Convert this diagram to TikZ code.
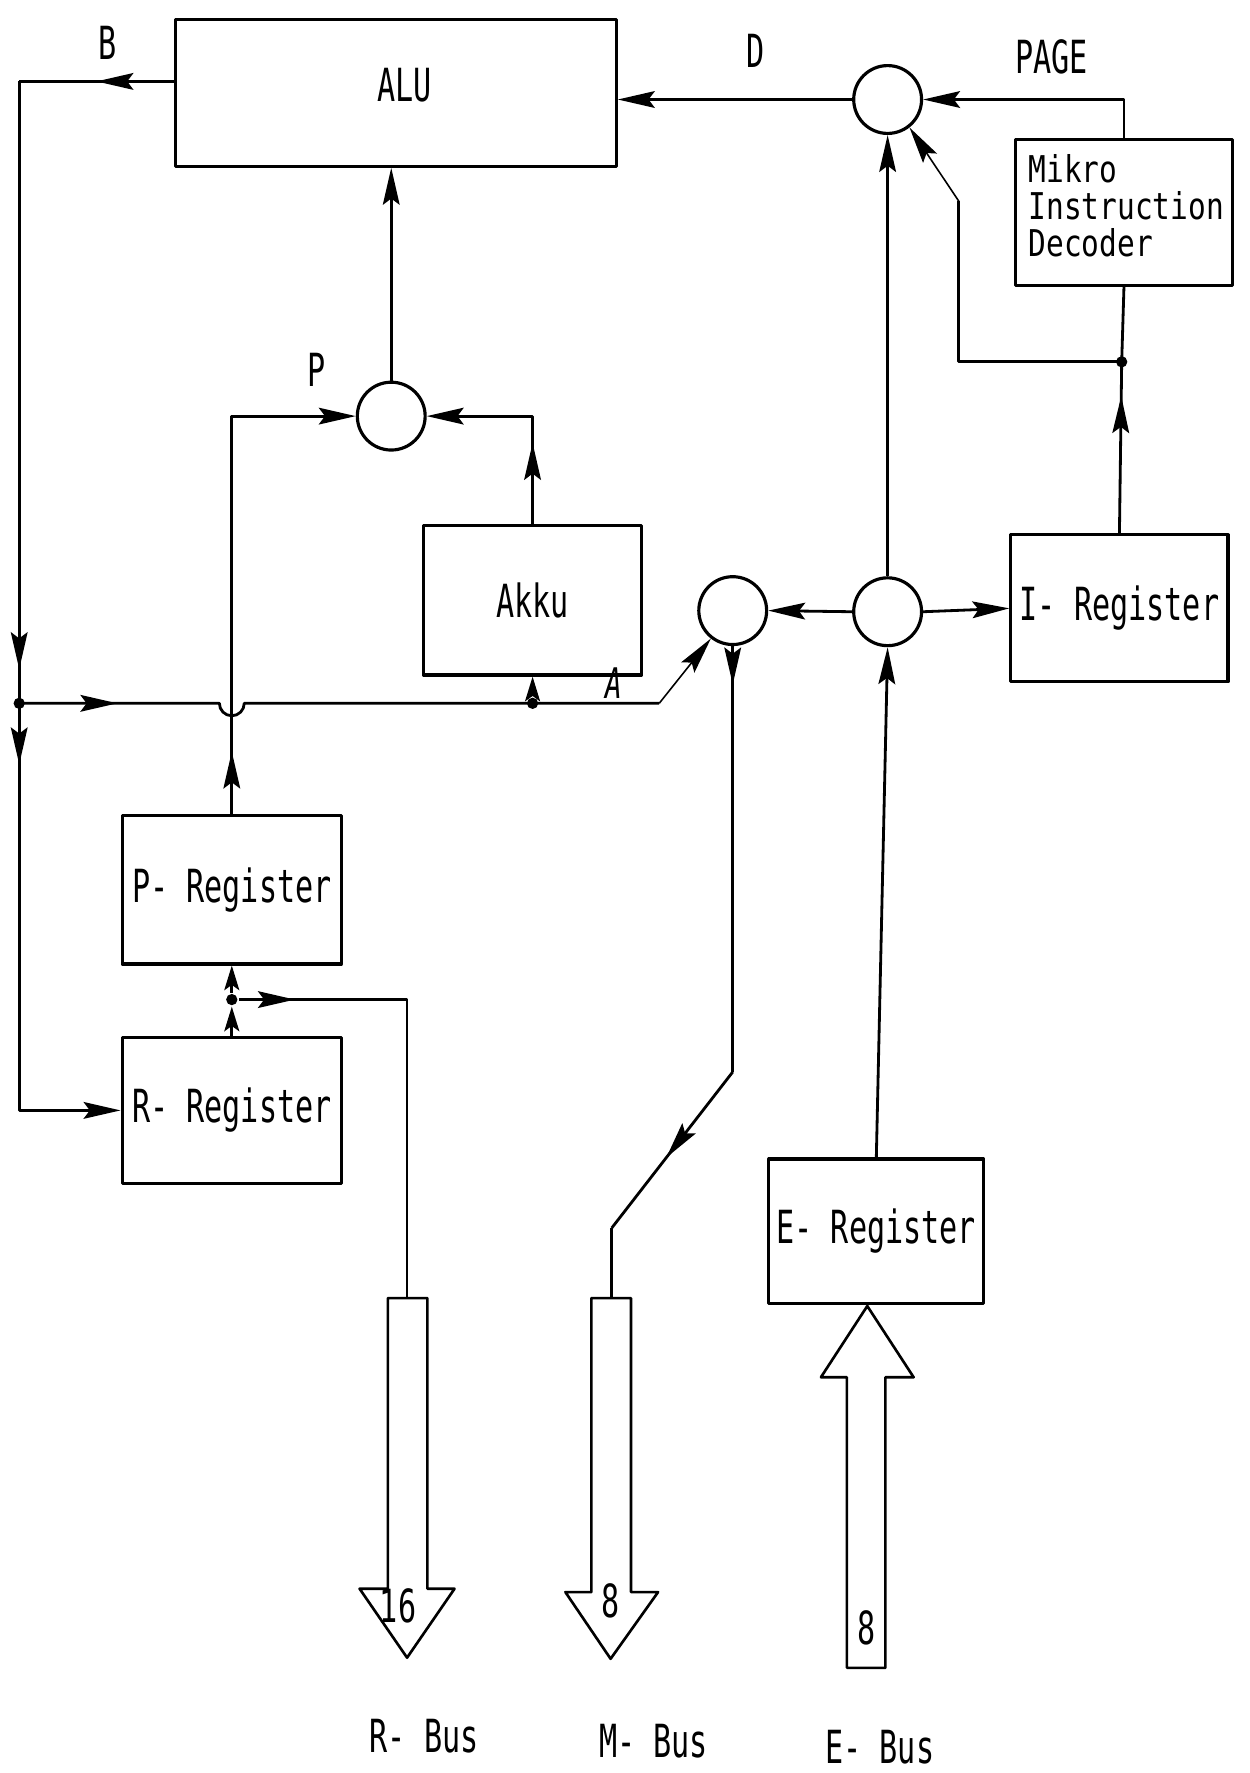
\documentclass[tikz,border=0pt]{standalone}
\usepackage{fontspec}
\setmainfont{DejaVu Sans Mono}[FakeStretch=0.66]
\newfontfamily\mikrofont{DejaVu Sans Mono}[FakeStretch=0.8]
\usetikzlibrary{arrows.meta,decorations.markings}
\newlength\pxu
\setlength\pxu{0.022624cm}
\begin{document}
\begin{tikzpicture}[x=0.022624cm, y=-0.022624cm,
  line width=1.6pt, line join=round,
  >={Stealth[length=21pt,width=9.5pt,inset=3.5pt]},
  shorttip/.style={-{Stealth[length=14pt,width=8.5pt,inset=3pt]}},
  box/.style={draw, line width=1.8pt, inner sep=0pt, font=\fontsize{26}{27}\selectfont},
  junc/.style={circle, draw, line width=1.8pt, minimum size=60\pxu, inner sep=0pt},
  dotn/.style={circle, fill, minimum size=10\pxu, inner sep=0pt},
  lbl/.style={font=\fontsize{26}{27}\selectfont},
  bus/.style={draw, line width=1.5pt},
  faint/.style={line width=0.9pt},
  amark/.style={decoration={markings, mark=at position #1 with {\arrow{>}}}, postaction={decorate}}
]
\useasboundingbox (0,0) rectangle (1105,1568);

% boxes
\node[box, minimum width=390\pxu, minimum height=130\pxu] (alu) at (350,82) {};
\node[lbl] at (358,75) {ALU};
\node[box, minimum width=192\pxu, minimum height=129\pxu] (mid) at (994,188) {};
\node[align=left, inner sep=0pt, font=\fontsize{21}{21}\mikrofont] at (996,182) {Mikro\\Instruction\\Decoder};
\node[box, minimum width=192\pxu, minimum height=130\pxu] (ireg) at (990,538) {I- Register};
\node[box, minimum width=193\pxu, minimum height=132\pxu] (akku) at (471,531) {Akku};
\node[box, minimum width=194\pxu, minimum height=131\pxu] (preg) at (205,787) {P- Register};
\node[box, minimum width=194\pxu, minimum height=129\pxu] (rreg) at (205,982) {R- Register};
\node[box, minimum width=190\pxu, minimum height=128\pxu] (ereg) at (775,1089) {E- Register};

% junction circles
\node[junc] (dc) at (785,88) {};
\node[junc] (cp) at (346,368) {};
\node[junc] (c1) at (648,540) {};
\node[junc] (c2) at (785,541) {};

% labels
\node[lbl] at (95,38) {B};
\node[lbl] at (668,45) {D};
\node[lbl] at (930,50) {PAGE};
\node[lbl] at (280,327) {P};
\node[lbl, font=\fontsize{24}{25}\selectfont\itshape] at (543,604) {A};

% coordinates
\coordinate (bl) at (17,72);
\coordinate (hop) at (preg.north |- 17,622);
\coordinate (aend) at (583,622);
\coordinate (mk1) at (848,320);
\coordinate (mk2) at (848,178);
\coordinate (mb1) at (648,948);
\coordinate (mb2) at (541,1086);
\coordinate (rbus) at (360,1148);
\coordinate (mbus) at (541,1148);

% B loop
\draw[amark=0.5] (alu.west |- bl) -- (bl);
\draw[amark=0.945] (bl) -- (17,622) coordinate (jlp);
\draw[->, amark=0.12] (jlp) -- (jlp |- rreg.west) -- (rreg.west);

% A bus with hop
\draw[amark=0.15] (jlp) -- ([xshift=-11\pxu]hop) arc (180:0:11) -- (akku.south |- jlp) -- (aend);
\draw[->, faint] (aend) -- (c1.232);

% P path
\draw[->, amark=0.12] (preg.north) -- (preg.north |- cp) -- (cp.west);
\draw[->, amark=0.38] (akku.north) -- (akku.north |- cp) -- (cp.east);
\draw[->] (cp.north) -- (cp.north |- alu.south);

% D / PAGE
\draw[->] (dc.west) -- (dc.west -| alu.east);
\draw[->] (mid.north) -- (mid.north |- dc) -- (dc.east);

% decoder / I-register
\draw[amark=0.8] (ireg.north) -- (992,320) coordinate (mdp);
\draw (mdp) -- (mid.south);
\draw (mdp) -- (mk1) -- (mk2);
\draw[->, faint] (mk2) -- (dc.-52);

% central circles
\draw[->] (c2.north) -- (dc.south);
\draw[->] (c2.west) -- (c1.east);
\draw[->] (c2.east) -- (ireg.west);
\draw[->] (ereg.north) -- (c2.south);

% junction dots (drawn over the lines)
\node[dotn] (jl) at (jlp) {};
\node[dotn] (adot) at (akku.south |- jlp) {};
\node[dotn] (mdot) at (mdp) {};
\node[dotn] (rdot) at (205,884) {};
\draw[shorttip] (adot) -- (akku.south);

% R/P registers
\draw[shorttip] (rreg.north) -- (rdot);
\draw[shorttip] (rdot) -- (preg.south);
\draw[amark=0.12] (rdot) -- (rdot -| rbus) -- (rbus);

% M bus
\draw[amark=0.09] (c1.south) -- (mb1);
\draw[amark=0.55] (mb1) -- (mb2);
\draw (mb2) -- (mbus);

% fat bus arrows
\draw[bus] (343,1148) -- (378,1148) -- (378,1405) -- (402,1405) -- (360,1466) -- (318,1405) -- (343,1405) -- cycle;
\node[lbl] at (352,1420) {16};
\draw[bus] (523,1148) -- (558,1148) -- (558,1408) -- (582,1408) -- (540,1467) -- (500,1408) -- (523,1408) -- cycle;
\node[lbl] at (540,1416) {8};
\draw[bus] (749,1475) -- (749,1218) -- (726,1218) -- (767,1155) -- (808,1218) -- (783,1218) -- (783,1475) -- cycle;
\node[lbl] at (766,1440) {8};

% bus labels
\node[lbl] at (375,1535) {R- Bus};
\node[lbl] at (578,1540) {M- Bus};
\node[lbl] at (778,1545) {E- Bus};
\end{tikzpicture}
\end{document}
